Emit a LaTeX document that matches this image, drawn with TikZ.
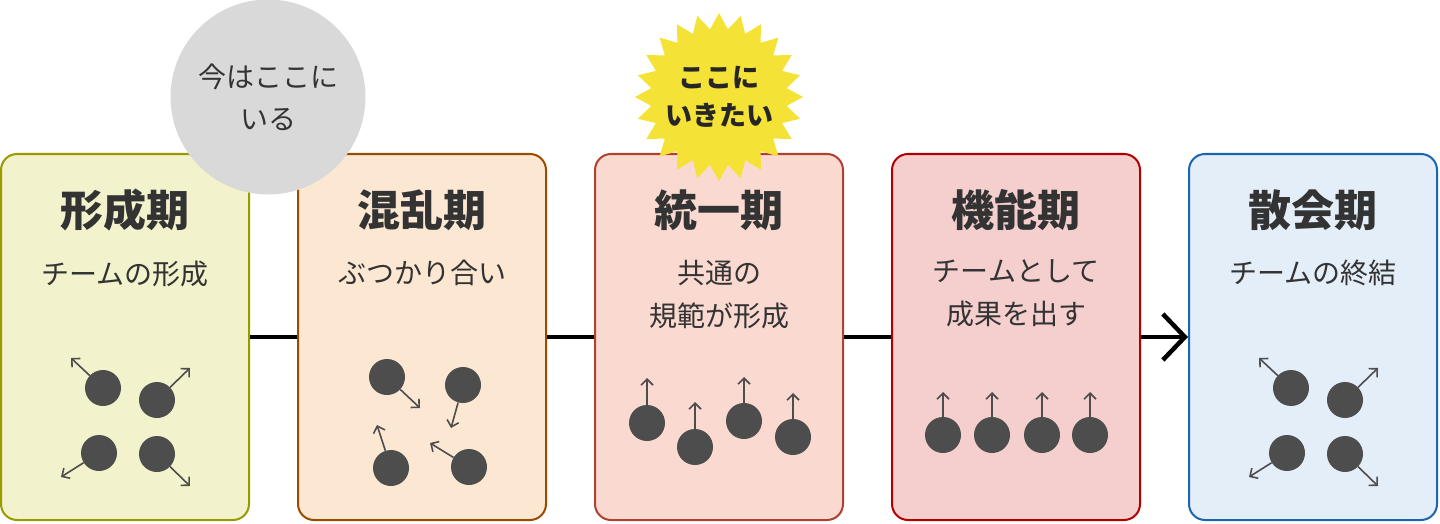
\documentclass[tikz,border=0pt]{standalone}
\usepackage{fontspec}
\setmainfont{Noto Sans CJK JP}
\usetikzlibrary{positioning,shapes.geometric,arrows.meta}
\definecolor{ink}{HTML}{333333}
\definecolor{dotgray}{HTML}{4D4D4D}
\definecolor{fillA}{HTML}{F2F2CC}\definecolor{lineA}{HTML}{999900}
\definecolor{fillB}{HTML}{FCE7D2}\definecolor{lineB}{HTML}{994C00}
\definecolor{fillC}{HTML}{FAD9D0}\definecolor{lineC}{HTML}{AE4132}
\definecolor{fillD}{HTML}{F5CECE}\definecolor{lineD}{HTML}{B20000}
\definecolor{fillE}{HTML}{E4EEF9}\definecolor{lineE}{HTML}{1A66AD}
\definecolor{nowgray}{HTML}{D9D9D9}
\definecolor{burst}{HTML}{F4E236}
\begin{document}
\begin{tikzpicture}[x=1pt,y=1pt,
	phase/.style={line width=2pt,rounded corners=16pt,minimum width=248pt,minimum height=366pt,inner sep=0pt},
	phasetitle/.style={font=\bfseries\fontsize{43}{45}\selectfont,text=ink,inner sep=0pt},
	phasesub/.style={font=\fontsize{28}{43}\selectfont,text=ink,align=center,inner sep=0pt},
	member/.style={circle,fill=dotgray,minimum size=36pt,inner sep=0pt},
	move/.style={draw=dotgray,line width=1.6pt,-{Straight Barb[length=6pt,width=12pt]}},
	link/.style={draw=black,line width=4pt},
	note/.style={font=\fontsize{28}{42}\selectfont,text=ink,align=center}]
	\useasboundingbox (0,0) rectangle (1440,-524);
	% phases
	\node[phase,fill=fillA,draw=lineA] (b1) at (125,-337) {};
	\node[phase,fill=fillB,draw=lineB,right=47pt of b1] (b2) {};
	\node[phase,fill=fillC,draw=lineC,right=47pt of b2] (b3) {};
	\node[phase,fill=fillD,draw=lineD,right=47pt of b3] (b4) {};
	\node[phase,fill=fillE,draw=lineE,right=47pt of b4] (b5) {};
	\foreach \b/\name/\desc in {b1/形成期/チームの形成, b2/混乱期/ぶつかり合い, b3/統一期/共通の\\規範が形成, b4/機能期/チームとして\\成果を出す, b5/散会期/チームの終結}{
		\node[phasetitle] (\b t) at ([yshift=-57pt]\b.north) {\name};
		\node[phasesub,below=29pt of \b t] (\b s) {\desc};
	}
	\draw[link] (b1) -- (b2);
	\draw[link] (b2) -- (b3);
	\draw[link] (b3) -- (b4);
	\draw[link,-{Straight Barb[length=22pt,width=46pt,line width=4.5pt]}] (b4) -- (b5);
	% members
	\foreach \b in {b1,b5}{
		\begin{scope}[shift={(\b.north west)}]
			\foreach \i/\x/\y/\tx/\ty in {1/103/235/71/205, 2/157/247/190/215, 3/99/300/61/324, 4/157/301/190/333}{
				\node[member] (\b m\i) at (\x,-\y) {};
				\coordinate (\b a\i) at (\tx,-\ty);
				\draw[move] (\b m\i) -- (\b a\i);
			}
		\end{scope}
	}
	\begin{scope}[shift={(b2.north west)}]
		\foreach \i/\x/\y/\tx/\ty in {1/90/224/123/255, 2/166/232/154/275, 3/94/315/80/272, 4/172/314/133/290}{
			\node[member] (b2m\i) at (\x,-\y) {};
			\coordinate (b2a\i) at (\tx,-\ty);
			\draw[move] (b2m\i) -- (b2a\i);
		}
	\end{scope}
	\begin{scope}[shift={(b3.north west)}]
		\foreach \i/\x/\y/\ty in {1/53/270/225, 2/101/294/249, 3/150/268/224, 4/199/284/240}{
			\node[member] (b3m\i) at (\x,-\y) {};
			\coordinate (b3a\i) at (\x,-\ty);
			\draw[move] (b3m\i) -- (b3a\i);
		}
	\end{scope}
	\begin{scope}[shift={(b4.north west)}]
		\foreach \i/\x in {1/52, 2/101, 3/151, 4/199}{
			\node[member] (b4m\i) at (\x,-282) {};
			\coordinate (b4a\i) at (\x,-239);
			\draw[move] (b4m\i) -- (b4a\i);
		}
	\end{scope}
	% markers
	\node[note,circle,fill=nowgray,minimum size=195pt] (now) at (268,-97) {今はここに\\いる};
	\node[star,star points=24,star point ratio=1.23,fill=burst,minimum size=168pt,inner sep=0pt] (goal) at (719,-97) {};
	\node[note,font=\bfseries\fontsize{27}{38}\selectfont,text=black!85] (goaltext) at (goal) {ここに\\いきたい};
\end{tikzpicture}
\end{document}
